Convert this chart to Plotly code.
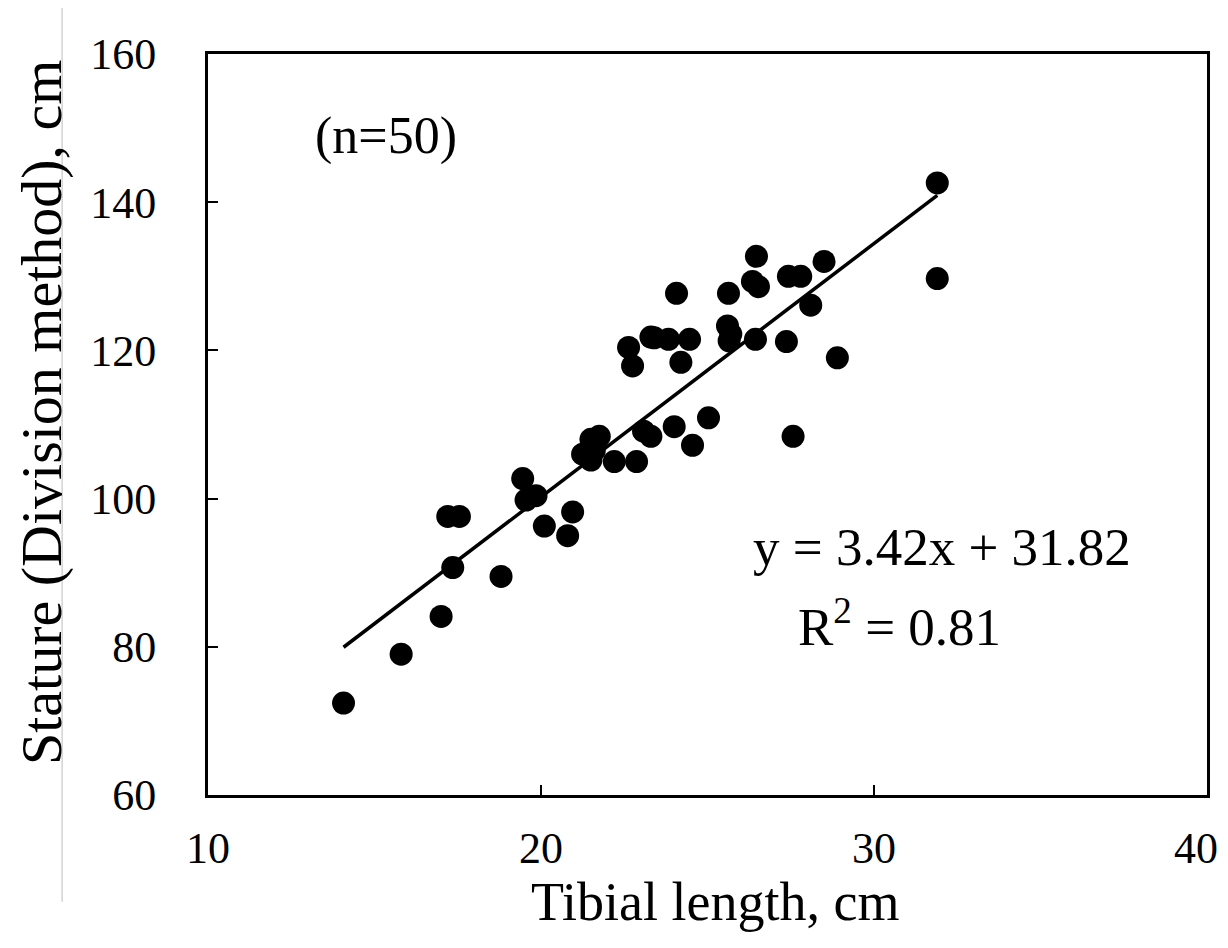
import numpy as np
import plotly.graph_objects as go

# tibial length (cm) and stature (cm)
tibial_cm = [14.07, 15.8, 17.0, 17.35, 17.2, 17.55, 18.8, 19.45, 19.55, 19.85,
             20.1, 20.8, 20.95, 21.25, 21.5, 21.75, 21.5, 22.2, 22.87, 23.08,
             23.3, 24.0, 24.55, 25.03, 27.57, 22.63, 22.75, 23.3, 23.83, 24.46,
             24.2, 24.07, 25.63, 25.6, 25.65, 26.44, 27.37, 26.47, 26.35, 26.53,
             27.43, 27.8, 28.1, 28.5, 31.9, 31.9, 28.9, 25.7, 21.6, 23.4]
stature_cm = [72.4, 79.0, 84.1, 90.7, 97.6, 97.6, 89.5, 102.7, 99.8, 100.4,
              96.3, 95.0, 98.2, 106.0, 108.0, 108.4, 105.2, 105.0, 105.0, 109.1,
              108.4, 109.7, 107.2, 110.9, 108.4, 120.4, 117.9, 121.8, 121.5, 121.5,
              118.4, 127.7, 127.7, 123.3, 121.3, 121.5, 121.2, 132.7, 129.3, 128.6,
              130.0, 130.0, 126.1, 132.0, 142.6, 129.7, 119.0, 122.2, 106.5, 121.7]

# fitted line as printed on the chart
slope = 3.42
intercept = 31.82
r_squared = 0.81

x_ticks = [10, 20, 30, 40]
# last label is nudged left so it stays inside the page, as in the source
x_tick_labels = ["10", "20", "30", "40&nbsp;&nbsp;"]
y_ticks = [60, 80, 100, 120, 140, 160]

serif = "Liberation Serif, Times New Roman, serif"

fit_x = np.array([min(tibial_cm), max(tibial_cm)])
fit_y = slope * fit_x + intercept

fig = go.Figure()
fig.add_trace(go.Scatter(
    x=tibial_cm, y=stature_cm, mode="markers",
    marker=dict(color="black", size=23, line=dict(width=0)),
    showlegend=False,
))
fig.add_trace(go.Scatter(
    x=fit_x, y=fit_y, mode="lines",
    line=dict(color="black", width=3.5),
    showlegend=False,
))


def label(text, x, y, size, angle=0):
    fig.add_annotation(x=x, y=y, xref="paper", yref="paper", text=text,
                       showarrow=False, xanchor="center", yanchor="middle",
                       textangle=angle,
                       font=dict(family=serif, size=size, color="black"))


label("(n=50)", 0.178, 0.89, 52)
label(f"y = {slope}x + {intercept}", 0.735, 0.335, 53)
label(f"R<sup>2</sup> = {r_squared}", 0.692, 0.232, 53)
label("Tibial length, cm", 0.508, -0.145, 54)
label("Stature (Division method), cm", -0.166, 0.517, 58, angle=-90)

# faint vertical rule at the left edge of the source image
fig.add_shape(type="line", xref="paper", yref="paper",
              x0=-0.146, x1=-0.146, y0=1.08, y1=-0.144,
              line=dict(color="#d3d3d3", width=1.5))

fig.update_layout(
    width=1228, height=948,
    margin=dict(l=200, r=29, t=46, b=161),
    plot_bgcolor="white", paper_bgcolor="white",
    font=dict(family=serif, color="black"),
    xaxis=dict(
        range=[10, 40], tickvals=x_ticks, ticktext=x_tick_labels,
        showgrid=False, zeroline=False, automargin=False,
        showline=True, linecolor="black", linewidth=3, mirror=True,
        ticks="inside", ticklen=10, tickwidth=2, tickcolor="black",
        tickfont=dict(size=44), ticklabelstandoff=12,
        ticklabeloverflow="allow",
    ),
    yaxis=dict(
        range=[60, 160], tickvals=y_ticks, showgrid=False, zeroline=False,
        automargin=False,
        showline=True, linecolor="black", linewidth=3, mirror=True,
        ticks="inside", ticklen=10, tickwidth=2, tickcolor="black",
        tickfont=dict(size=44), ticklabelstandoff=40,
        ticklabeloverflow="allow",
    ),
)

fig.write_html("out.html")
